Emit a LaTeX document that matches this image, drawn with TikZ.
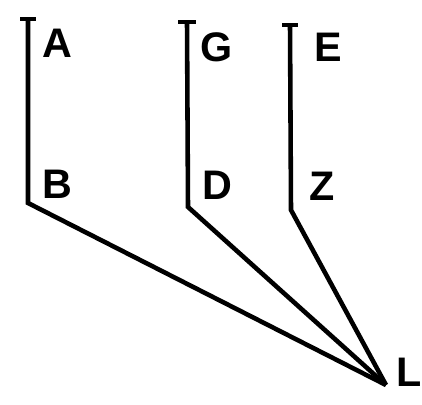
\documentclass[tikz,border=0pt]{standalone}
\usepackage{fontspec}
\setmainfont{Liberation Sans}
\usetikzlibrary{positioning}
\def\letterFont{\fontsize{23.5}{23.5}\selectfont\bfseries}
\tikzset{
  stroke/.style = {line width=2.6pt, line join=miter},
  letter/.style = {inner sep=0, font=\letterFont},
}

\begin{document}
\begin{tikzpicture}[x=0.02cm, y=-0.02cm]
  \useasboundingbox (0,0) rectangle (422,405);

  % top ends of the three uprights
  \coordinate (A) at (28,19);
  \coordinate (G) at (187,22);
  \coordinate (E) at (290,25);

  % bends
  \coordinate (B) at (28,203);
  \coordinate (D) at (188,207);
  \coordinate (Z) at (291,210);

  % meeting point
  \coordinate (L) at (386,385);

  % letters
  \node[letter] (lA) at (57,43) {A};
  \node[letter] (lG) at (217,47) {G};
  \node[letter] (lE) at (328,47) {E};
  \node[letter] (lB) at (57,184) {B};
  \node[letter] (lD) at (217,185) {D};
  \node[letter] (lZ) at (322,186) {Z};
  \node[letter] (lL) at (409,372) {L};

  % ticks on top
  \draw[stroke] ([xshift=-4.5pt]A) -- ([xshift=4.5pt]A);
  \draw[stroke] ([xshift=-5pt]G) -- ([xshift=5pt]G);
  \draw[stroke] ([xshift=-4.5pt]E) -- ([xshift=4.5pt]E);

  % uprights and slants
  \draw[stroke] (A) -- (B) -- (L);
  \draw[stroke] (G) -- (D) -- (L);
  \draw[stroke] (E) -- (Z) -- (L);
\end{tikzpicture}
\end{document}
